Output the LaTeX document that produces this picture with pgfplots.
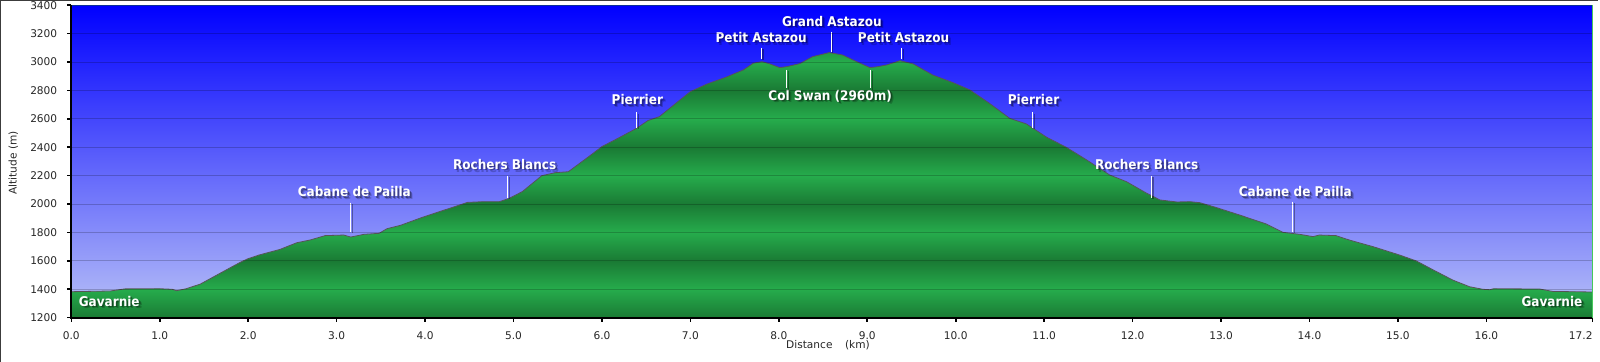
\documentclass[border=0pt]{standalone}
\usepackage{pgfplots}
\pgfplotsset{compat=1.18}
\usepackage{pgfplotstable}
\usepackage{fontspec}
\setmainfont{DejaVu Sans}
\newfontfamily\lblfont[FakeStretch=0.9]{DejaVu Sans}

\definecolor{gD}{RGB}{26,122,52}
\definecolor{gL}{RGB}{38,172,76}
\definecolor{skytop}{RGB}{0,0,255}
\definecolor{skybot}{RGB}{170,178,248}
\definecolor{outline}{RGB}{85,85,85}
\definecolor{edgegreen}{RGB}{70,200,90}
\definecolor{framegray}{RGB}{60,60,60}
\pgfdeclareverticalshading{greenbands}{100bp}{color(0bp)=(gD); color(25bp)=(gD); color(29.545bp)=(gL); color(34.091bp)=(gD); color(38.636bp)=(gL); color(43.182bp)=(gD); color(47.727bp)=(gL); color(52.273bp)=(gD); color(56.818bp)=(gL); color(61.364bp)=(gD); color(65.909bp)=(gL); color(70.455bp)=(gD); color(75bp)=(gL); color(100bp)=(gL)}

\pgfplotstableread{
x y
0 3400
0.00 1383
0.44 1388
0.61 1403
1.00 1404
1.14 1400
1.19 1390
1.30 1404
1.46 1437
1.68 1512
1.91 1590
2.00 1616
2.12 1641
2.36 1681
2.55 1728
2.70 1747
2.87 1778
3.08 1782
3.16 1768
3.31 1787
3.48 1794
3.57 1827
3.72 1850
3.97 1907
4.31 1977
4.48 2012
4.65 2017
4.84 2017
4.95 2040
5.10 2088
5.32 2200
5.47 2221
5.62 2228
5.85 2334
6.00 2405
6.18 2463
6.39 2533
6.52 2588
6.65 2616
6.86 2722
7.00 2792
7.19 2846
7.40 2893
7.60 2945
7.71 2992
7.81 3003
7.90 2987
8.01 2961
8.09 2968
8.24 2990
8.38 3038
8.57 3067
8.72 3050
8.88 3003
9.03 2961
9.12 2968
9.22 2980
9.37 3010
9.52 2987
9.74 2909
9.97 2855
10.16 2804
10.38 2710
10.61 2604
10.80 2564
11.03 2470
11.25 2400
11.48 2311
11.74 2205
11.93 2158
12.16 2076
12.31 2029
12.50 2015
12.65 2017
12.76 2010
12.94 1977
13.21 1923
13.51 1860
13.70 1801
13.89 1787
14.04 1771
14.11 1782
14.30 1778
14.45 1747
14.72 1700
15.02 1641
15.21 1599
15.40 1536
15.62 1465
15.81 1418
15.96 1400
16.04 1397
16.08 1404
16.60 1402
16.75 1385
17.20 1381
17.2 3400
}\prof

\newcommand{\lblstyle}{\lblfont\bfseries\fontsize{6.7}{8}\selectfont}
\newcommand{\lbl}[4][base]{%
  \node[anchor=#1, font=\lblstyle, text=black, opacity=0.2, inner sep=0pt] at ([shift={(1.4pt,-1.4pt)}]axis cs:#2,#3) {#4};
  \node[anchor=#1, font=\lblstyle, text=black, opacity=0.35, inner sep=0pt] at ([shift={(0.8pt,-0.8pt)}]axis cs:#2,#3) {#4};
  \node[anchor=#1, font=\lblstyle, text=white, inner sep=0pt] at (axis cs:#2,#3) {#4};}
\newcommand{\leader}[3]{%
  \draw[black, opacity=0.35, line width=0.6pt] ([shift={(0.9pt,-0.6pt)}]axis cs:#1,#2) -- ([shift={(0.9pt,-0.6pt)}]axis cs:#1,#3);
  \draw[white, line width=0.5pt] (axis cs:#1,#2) -- (axis cs:#1,#3);}

\begin{document}
\begin{tikzpicture}
\useasboundingbox (0,0) rectangle (800pt,181pt);
\begin{axis}[
  at={(35.65pt,22.15pt)}, anchor=south west,
  scale only axis, width=760.6pt, height=156.2pt,
  xmin=0, xmax=17.2, ymin=1200, ymax=3400,
  xtick={0,1,2,3,4,5,6,7,8,9,10,11,12,13,14,15,16,17.2},
  xticklabels={0.0,1.0,2.0,3.0,4.0,5.0,6.0,7.0,8.0,9.0,10.0,11.0,12.0,13.0,14.0,15.0,16.0,\llap{17.2}},
  ytick={1200,1400,1600,1800,2000,2200,2400,2600,2800,3000,3200,3400},
  scaled ticks=false,
  /pgf/number format/assume math mode=true,
  x tick label style={yshift=-1.5pt},
  y tick label style={/pgf/number format/set thousands separator={}, xshift=-1.5pt},
  tick label style={font=\fontsize{5.3}{6}\selectfont, text=black!85},
  tick align=outside, tick pos=left,
  major tick length=2pt,
  tick style={black, line width=0.8pt},
  axis line style={draw=none},
  ymajorgrids, grid style={black, opacity=0.2, line width=0.5pt},
  axis on top,
  axis background/.style={shade, shading=greenbands},
]
\addplot[draw=none, top color=skytop, bottom color=skybot] table {\prof};
\addplot[draw=outline, line width=0.4pt, restrict y to domain=1000:3350] table {\prof};

\leader{3.16}{2010}{1806}
\leader{4.93}{2198}{2045}
\leader{6.39}{2646}{2538}
\leader{7.80}{3102}{3022}
\leader{8.59}{3215}{3074}
\leader{9.39}{3102}{3022}
\leader{8.09}{2945}{2815}
\leader{9.04}{2945}{2815}
\leader{10.87}{2646}{2538}
\leader{12.21}{2198}{2045}
\leader{13.81}{2017}{1806}

\lbl[base west]{0.08}{1282}{Gavarnie}
\lbl[base east]{17.09}{1282}{Gavarnie}
\lbl{3.20}{2050}{Cabane de Pailla}
\lbl{4.90}{2245}{Rochers Blancs}
\lbl{6.40}{2698}{Pierrier}
\lbl{7.80}{3139}{Petit Astazou}
\lbl{8.60}{3254}{Grand Astazou}
\lbl{9.41}{3139}{Petit Astazou}
\lbl{8.58}{2733}{Col Swan (2960m)}
\lbl{10.88}{2698}{Pierrier}
\lbl{12.16}{2245}{Rochers Blancs}
\lbl{13.84}{2050}{Cabane de Pailla}
\end{axis}
\draw[black, line width=0.9pt] (35.65pt,178.35pt) -- (35.65pt,22.15pt) -- (796.25pt,22.15pt);
\draw[edgegreen, line width=0.7pt] (796.25pt,22.15pt) -- (796.25pt,178.35pt);
\draw[framegray, line width=0.6pt] (0.3pt,0pt) -- (0.3pt,180.7pt) -- (799pt,180.7pt);
\node[font=\fontsize{5.3}{6}\selectfont, text=black!85, inner sep=0pt] at (414pt,8.5pt) {Distance\hspace{6.3pt}(km)};
\node[font=\fontsize{5.3}{6}\selectfont, text=black!85, inner sep=0pt, rotate=90] at (6.65pt,99.5pt) {Altitude (m)};
\end{tikzpicture}
\end{document}
